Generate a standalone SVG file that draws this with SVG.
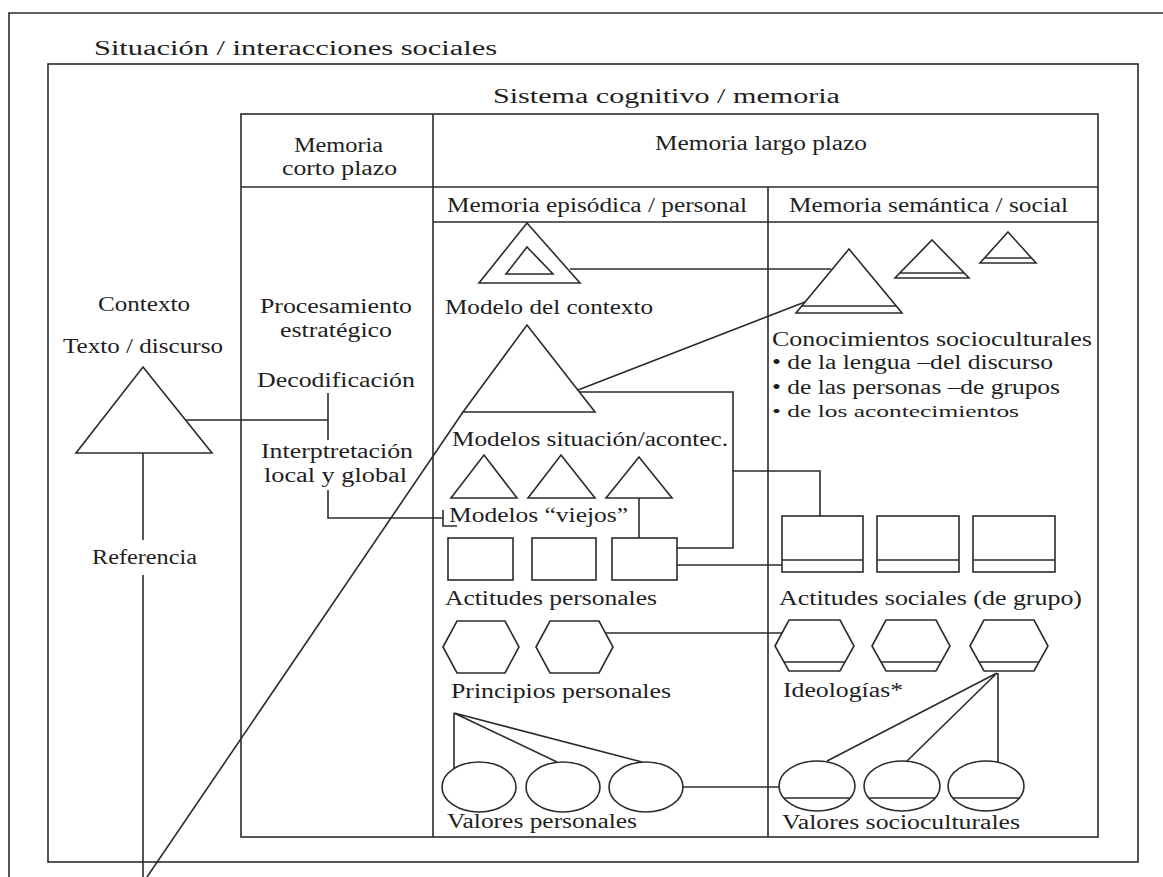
<svg xmlns="http://www.w3.org/2000/svg" width="1163" height="877" viewBox="0 0 1163 877">
<style>
.l{fill:none;stroke:#2b2b2b;stroke-width:1.6}
.s{fill:#fff;stroke:#2b2b2b;stroke-width:1.6}
text{font-family:"Liberation Serif","Times New Roman",serif;font-size:20px;fill:#1e1e1e}
.sm{font-size:17px}
</style>
<rect width="1163" height="877" fill="#fff"/>
<g id="frames">
<path class="l" d="M1163,13 H9 V877"/>
<rect class="l" x="48" y="64" width="1090" height="798"/>
<rect class="l" x="241" y="114" width="857" height="723"/>
<path class="l" d="M433,114 V837 M241,187 H1098 M433,222 H1098 M768,187 V837"/>
</g>
<g id="titles">
<text x="94" y="55" textLength="403" lengthAdjust="spacingAndGlyphs">Situación / interacciones sociales</text>
<text x="493" y="103" textLength="347" lengthAdjust="spacingAndGlyphs">Sistema cognitivo / memoria</text>
<text x="294" y="152" textLength="89" lengthAdjust="spacingAndGlyphs">Memoria</text>
<text x="282" y="175" textLength="115" lengthAdjust="spacingAndGlyphs">corto plazo</text>
<text x="655" y="150" textLength="212" lengthAdjust="spacingAndGlyphs">Memoria largo plazo</text>
<text x="447" y="212" textLength="300" lengthAdjust="spacingAndGlyphs">Memoria episódica / personal</text>
<text x="789" y="212" textLength="279" lengthAdjust="spacingAndGlyphs">Memoria semántica / social</text>
</g>
<g id="connectors">
<path class="l" d="M186,420 H328 M328,393 V440"/>
<path class="l" d="M328,490 V518 H443 M443,510 V526 H457"/>
<path class="l" d="M143,453 V540 M143,575 V877"/>
<path class="l" d="M463,412 L147,877"/>
<path class="l" d="M578,390 L805,302"/>
<path class="l" d="M570,269 H831"/>
<path class="l" d="M579,392 H733 V548 H677"/>
<path class="l" d="M733,471 H820 V516"/>
<path class="l" d="M639,498 V538"/>
<path class="l" d="M677,565 H782"/>
<path class="l" d="M605,633 H782"/>
<path class="l" d="M454,713 V770 M454,713 L557,762 M454,713 L642,762"/>
<path class="l" d="M683,787 H779"/>
<path class="l" d="M997,673 L827,761 M997,673 L907,761 M998,673 V762"/>
</g>
<g id="texto-discurso">
<text x="98" y="311" textLength="92" lengthAdjust="spacingAndGlyphs">Contexto</text>
<text x="63" y="353" textLength="160" lengthAdjust="spacingAndGlyphs">Texto / discurso</text>
<polygon class="s" points="143,367 212,453 76,453"/>
<text x="92" y="564" textLength="105" lengthAdjust="spacingAndGlyphs">Referencia</text>
</g>
<g id="procesamiento">
<text x="260" y="313" textLength="152" lengthAdjust="spacingAndGlyphs">Procesamiento</text>
<text x="280" y="337" textLength="112" lengthAdjust="spacingAndGlyphs">estratégico</text>
<text x="257" y="387" textLength="158" lengthAdjust="spacingAndGlyphs">Decodificación</text>
<text x="261" y="458" textLength="152" lengthAdjust="spacingAndGlyphs">Interptretación</text>
<text x="264" y="482" textLength="143" lengthAdjust="spacingAndGlyphs">local y global</text>
</g>
<g id="modelo-contexto">
<polygon class="s" points="527,223 580,283 479,283"/>
<polygon class="s" points="527,247 553,274 506,274"/>
<text x="445" y="314" textLength="208" lengthAdjust="spacingAndGlyphs">Modelo del contexto</text>
</g>
<g id="modelos-situacion">
<polygon class="l" points="527,325 595,412 463,412"/>
<text x="452" y="446" textLength="276" lengthAdjust="spacingAndGlyphs">Modelos situación/acontec.</text>
<polygon class="s" points="484,455 517,498 451,498"/>
<polygon class="s" points="561,455 595,498 528,498"/>
<polygon class="s" points="639,457 672,498 606,498"/>
<text x="449" y="522" textLength="179" lengthAdjust="spacingAndGlyphs">Modelos “viejos”</text>
</g>
<g id="actitudes-personales">
<rect class="s" x="448" y="538" width="65" height="42"/>
<rect class="s" x="532" y="538" width="64" height="42"/>
<rect class="s" x="612" y="538" width="65" height="42"/>
<text x="445" y="605" textLength="212" lengthAdjust="spacingAndGlyphs">Actitudes personales</text>
</g>
<g id="principios-personales">
<polygon class="s" points="443,647 457,621 505,621 519,647 505,673 457,673"/>
<polygon class="s" points="536,647 550,621 599,621 613,647 599,673 550,673"/>
<text x="451" y="698" textLength="220" lengthAdjust="spacingAndGlyphs">Principios personales</text>
</g>
<g id="valores-personales">
<ellipse class="s" cx="479" cy="787" rx="37" ry="25"/>
<ellipse class="s" cx="563" cy="787" rx="37" ry="25"/>
<ellipse class="s" cx="646" cy="787" rx="37" ry="25"/>
<text x="447" y="828" textLength="190" lengthAdjust="spacingAndGlyphs">Valores personales</text>
</g>
<g id="conocimientos">
<polygon class="s" points="849,249 902,313 796,313"/>
<path class="l" d="M802,306 H896"/>
<polygon class="s" points="932,240 969,278 895,278"/>
<path class="l" d="M900,273 H964"/>
<polygon class="s" points="1008,232 1036,263 980,263"/>
<path class="l" d="M985,258 H1031"/>
<text x="772" y="346" textLength="320" lengthAdjust="spacingAndGlyphs">Conocimientos socioculturales</text>
<text x="772" y="369" textLength="281" lengthAdjust="spacingAndGlyphs">• de la lengua –del discurso</text>
<text x="772" y="394" textLength="288" lengthAdjust="spacingAndGlyphs">• de las personas –de grupos</text>
<text class="sm" x="772" y="417" textLength="247" lengthAdjust="spacingAndGlyphs">• de los acontecimientos</text>
</g>
<g id="actitudes-sociales">
<rect class="s" x="782" y="516" width="81" height="56"/>
<rect class="s" x="877" y="516" width="82" height="56"/>
<rect class="s" x="973" y="516" width="82" height="56"/>
<path class="l" d="M782,560 H863 M877,560 H959 M973,560 H1055"/>
<text x="779" y="605" textLength="303" lengthAdjust="spacingAndGlyphs">Actitudes sociales (de grupo)</text>
</g>
<g id="ideologias">
<polygon class="s" points="775,646 789,620 840,620 854,646 840,671 789,671"/>
<polygon class="s" points="872,646 886,620 936,620 950,646 936,671 886,671"/>
<polygon class="s" points="970,646 984,620 1034,620 1048,646 1034,671 984,671"/>
<path class="l" d="M784,662 H845 M881,662 H941 M979,662 H1039"/>
<text x="783" y="697" textLength="120" lengthAdjust="spacingAndGlyphs">Ideologías*</text>
</g>
<g id="valores-socioculturales">
<ellipse class="s" cx="817" cy="786" rx="38" ry="25"/>
<ellipse class="s" cx="902" cy="786" rx="38" ry="25"/>
<ellipse class="s" cx="986" cy="786" rx="38" ry="25"/>
<path class="l" d="M784,798 H850 M869,798 H935 M953,798 H1019"/>
<text x="782" y="829" textLength="238" lengthAdjust="spacingAndGlyphs">Valores socioculturales</text>
</g>
</svg>
